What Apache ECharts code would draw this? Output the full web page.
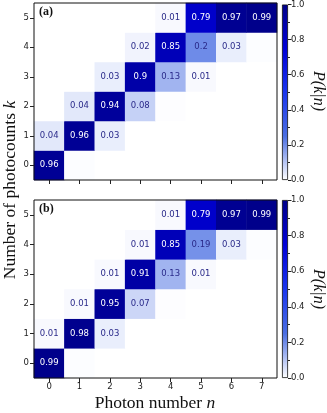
<!DOCTYPE html>
<html>
<head>
<meta charset="utf-8">
<script src="https://cdn.jsdelivr.net/npm/echarts@6/dist/echarts.min.js"></script>
<style>
html,body{margin:0;padding:0;background:#fff;}
#chart{width:327px;height:413px;}
</style>
</head>
<body>
<div id="chart"></div>
<script>
// Photon number n (columns) and photocount k (rows)
var photonNumbers = ['0','1','2','3','4','5','6','7'];
var photocounts = ['0','1','2','3','4','5'];
var colorbarTicks = [0, 0.2, 0.4, 0.6, 0.8, 1.0];

// P(k|n), panel (a): rows k = 0..5, columns n = 0..7
var panelA_k0 = [0.96, 0.004, 0, 0, 0, 0, 0, 0];
var panelA_k1 = [0.04, 0.96, 0.03, 0, 0, 0, 0, 0];
var panelA_k2 = [0, 0.04, 0.94, 0.08, 0.003, 0, 0, 0];
var panelA_k3 = [0, 0, 0.03, 0.90, 0.13, 0.01, 0, 0];
var panelA_k4 = [0, 0, 0, 0.02, 0.85, 0.20, 0.03, 0.004];
var panelA_k5 = [0, 0, 0, 0, 0.01, 0.79, 0.97, 0.99];

// P(k|n), panel (b)
var panelB_k0 = [0.99, 0.004, 0, 0, 0, 0, 0, 0];
var panelB_k1 = [0.01, 0.98, 0.03, 0, 0, 0, 0, 0];
var panelB_k2 = [0, 0.01, 0.95, 0.07, 0.003, 0, 0, 0];
var panelB_k3 = [0, 0, 0.01, 0.91, 0.13, 0.01, 0, 0];
var panelB_k4 = [0, 0, 0, 0.01, 0.85, 0.19, 0.03, 0.004];
var panelB_k5 = [0, 0, 0, 0, 0.01, 0.79, 0.97, 0.99];

var panelA = [panelA_k0, panelA_k1, panelA_k2, panelA_k3, panelA_k4, panelA_k5];
var panelB = [panelB_k0, panelB_k1, panelB_k2, panelB_k3, panelB_k4, panelB_k5];

function toCells(rows) {
  var out = [];
  for (var k = 0; k < rows.length; k++) {
    for (var n = 0; n < rows[k].length; n++) {
      out.push([n, k, rows[k][n]]);
    }
  }
  return out;
}

var cmap = ['#ffffff', '#4a6ee2', '#1a35ee', '#0000d8', '#000088'];

var chart = echarts.init(document.getElementById('chart'), null, {renderer: 'canvas'});

var gridA = {left: 34, top: 3, width: 243, height: 177};
var gridB = {left: 34, top: 200, width: 243, height: 178};
var cbA = {left: 282, top: 3, width: 6, height: 177};
var cbB = {left: 282, top: 200, width: 6, height: 178};

function gridOpt(g) {
  return {left: g.left, top: g.top, width: g.width, height: g.height,
    show: true, borderColor: '#111', borderWidth: 1, backgroundColor: 'transparent', z: 10};
}

var tickLabelFont = {fontFamily: 'DejaVu Sans', fontSize: 8.5, color: '#222'};

function xAxisOpt(gi, showLabels) {
  return {
    type: 'category', gridIndex: gi, data: photonNumbers,
    axisLine: {show: false},
    axisTick: {show: true, alignWithLabel: true, length: 4, lineStyle: {color: '#222'}},
    axisLabel: Object.assign({show: showLabels, margin: 4}, tickLabelFont),
    splitLine: {show: false}, z: 11
  };
}
function yAxisOpt(gi) {
  return {
    type: 'category', gridIndex: gi, data: photocounts,
    axisLine: {show: false},
    axisTick: {show: true, alignWithLabel: true, length: 4, lineStyle: {color: '#222'}},
    axisLabel: Object.assign({show: true, margin: 5}, tickLabelFont),
    splitLine: {show: false}, z: 11
  };
}
function cbXAxis(gi) {
  return {type: 'category', gridIndex: gi, data: [''], show: false, boundaryGap: true};
}
function cbYAxis(gi) {
  return {
    type: 'value', gridIndex: gi, position: 'right', min: 0, max: 1, interval: 0.2,
    axisLine: {show: false},
    axisTick: {show: true, length: 3.5, lineStyle: {color: '#222'}},
    minorTick: {show: true, splitNumber: 2, length: 2, lineStyle: {color: '#222'}},
    axisLabel: Object.assign({show: true, margin: 3, formatter: function (v) { return v.toFixed(1); }}, tickLabelFont),
    splitLine: {show: false}
  };
}

function cellLabel(p) {
  var v = p.value[2];
  var r = Math.round(v * 100) / 100;
  if (r < 0.01) return '';
  return String(r);
}

function heat(xi, yi, data) {
  return {
    type: 'heatmap', xAxisIndex: xi, yAxisIndex: yi, data: data,
    label: {
      show: true, formatter: cellLabel, fontFamily: 'DejaVu Sans', fontSize: 8.5,
      color: '#2a2a8a'
    },
    itemStyle: {borderWidth: 0},
    emphasis: {disabled: true},
    progressive: 0
  };
}

function heatDataWithColors(rows) {
  return toCells(rows).map(function (c) {
    return {value: c, label: {color: c[2] > 0.5 ? '#ffffff' : '#2a2a8a'}};
  });
}

function gradientBar(xi, yi) {
  var stops = cmap.map(function (c, i) { return {offset: 1 - i / (cmap.length - 1), color: c}; }).reverse();
  return {
    type: 'bar', xAxisIndex: xi, yAxisIndex: yi, data: [colorbarTicks[colorbarTicks.length - 1]],
    barWidth: '100%', silent: true,
    itemStyle: {color: new echarts.graphic.LinearGradient(0, 0, 0, 1, stops), borderColor: '#111', borderWidth: 0.8}
  };
}

var serif = 'Liberation Serif';

var option = {
  animation: false,
  backgroundColor: '#ffffff',
  grid: [gridOpt(gridA), gridOpt(gridB),
    {left: cbA.left, top: cbA.top, width: cbA.width, height: cbA.height},
    {left: cbB.left, top: cbB.top, width: cbB.width, height: cbB.height}],
  xAxis: [xAxisOpt(0, false), xAxisOpt(1, true), cbXAxis(2), cbXAxis(3)],
  yAxis: [yAxisOpt(0), yAxisOpt(1), cbYAxis(2), cbYAxis(3)],
  visualMap: {
    show: false, min: 0, max: 1, seriesIndex: [0, 1], dimension: 2,
    inRange: {color: cmap}
  },
  series: [
    heat(0, 0, heatDataWithColors(panelA)),
    heat(1, 1, heatDataWithColors(panelB)),
    gradientBar(2, 2),
    gradientBar(3, 3)
  ],
  graphic: [
    {type: 'text', left: 39, top: 6, z: 20, style: {text: '(a)', font: 'bold 12px "' + serif + '"', fill: '#111'}},
    {type: 'text', left: 39, top: 203, z: 20, style: {text: '(b)', font: 'bold 12px "' + serif + '"', fill: '#111'}},
    {type: 'text', x: 10, y: 190, rotation: Math.PI / 2, z: 20,
      style: {text: '{r|Number of photocounts }{i|k}', align: 'center', verticalAlign: 'middle',
        rich: {r: {fontFamily: serif, fontSize: 17.5, fill: '#111'}, i: {fontFamily: serif, fontSize: 17.5, fontStyle: 'italic', fill: '#111'}}}},
    {type: 'text', x: 155, y: 403, z: 20,
      style: {text: '{r|Photon number }{i|n}', align: 'center', verticalAlign: 'middle',
        rich: {r: {fontFamily: serif, fontSize: 17.5, fill: '#111'}, i: {fontFamily: serif, fontSize: 17.5, fontStyle: 'italic', fill: '#111'}}}},
    {type: 'text', x: 318, y: 91, rotation: -Math.PI / 2, z: 20,
      style: {text: 'P(k|n)', align: 'center', verticalAlign: 'middle', font: 'italic 16px "' + serif + '"', fill: '#111'}},
    {type: 'text', x: 318, y: 289, rotation: -Math.PI / 2, z: 20,
      style: {text: 'P(k|n)', align: 'center', verticalAlign: 'middle', font: 'italic 16px "' + serif + '"', fill: '#111'}}
  ]
};
chart.setOption(option);
</script>
</body>
</html>
